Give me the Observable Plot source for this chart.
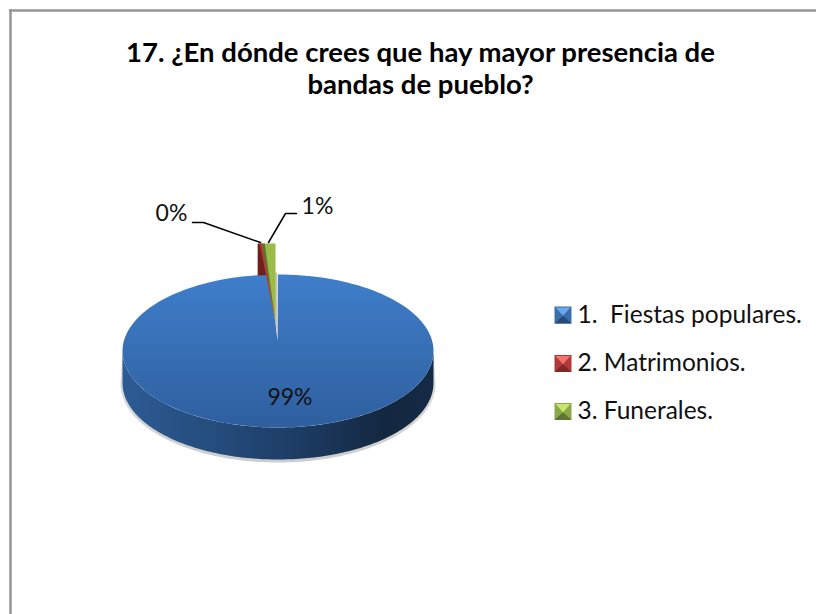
<!DOCTYPE html>
<html>
<head>
<meta charset="utf-8">
<script src="https://cdn.jsdelivr.net/npm/d3@7"></script>
<script src="https://cdn.jsdelivr.net/npm/@observablehq/plot@0.6"></script>
<style>html,body{margin:0;padding:0;background:#fff}svg{display:block}</style>
</head>
<body>
<div id="chart"></div>
<script>
// Data
const titleLines = ["17. ¿En dónde crees que hay mayor presencia de", "bandas de pueblo?"];
const categories = ["1.  Fiestas populares.", "2. Matrimonios.", "3. Funerales."];
const shares = [98.5, 0.3, 1.2];
const seriesLight = ["#6aa6ea", "#f4726c", "#c8e56c"];
const seriesBase = ["#3a6ea8", "#b03a37", "#8aa84a"];
const seriesDark = ["#274b78", "#7c2a28", "#5f7633"];

// Layout of the tilted pie, in pixels of the frame
const W = 816, H = 614, FONT = "Lato, Carlito, Calibri, sans-serif";
const cx = 277.5, cy = 350.5, rx = 155.5, ry = 76.5, depth = 32;
const apex = {x: 277, y: 340};
const spike = {top: 243, tipX: 275, tipY: 322, offset: -2, stretch: 1.22};

const rad = p => p * 3.6 * Math.PI / 180 * spike.stretch;
const gap = rad(shares[1] + shares[2]);
const ell = (t, dy = 0, g = 0) => ({x: cx + (rx + g) * Math.sin(t), y: cy + dy - (ry + g) * Math.cos(t)});
const arc = (a, b, dy = 0, g = 0) => d3.range(0, 161).map(i => ell(a + (b - a) * i / 160, dy, g));

const tip = {x: spike.tipX, y: spike.tipY};
const notch = {x: 266, y: 275};
const topFace = [apex, ...arc(0, 2 * Math.PI - gap), notch, tip];
const sideFace = [...arc(Math.PI / 2, 3 * Math.PI / 2), ...arc(3 * Math.PI / 2, Math.PI / 2, depth)];
const halo = [...arc(Math.PI / 2 - .05, 3 * Math.PI / 2 + .05, 1, 0), ...arc(3 * Math.PI / 2 + .05, Math.PI / 2 - .05, depth + 1, 2)];

const sx = t => apex.x + spike.offset - rx * Math.sin(t);
const greenR = sx(0), greenL = sx(rad(shares[2])), redL = sx(rad(shares[2] + shares[1]));
const greenFace = [{x: greenL, y: spike.top}, {x: greenR, y: spike.top}, tip];
const greenSide = [{x: greenL, y: spike.top}, {x: greenL + 3.5, y: spike.top}, tip];
const redSide = [{x: redL, y: spike.top}, {x: greenL, y: spike.top}, tip, notch, {x: redL, y: 275}];
const redFace = [{x: greenL - 1.6, y: spike.top}, {x: greenL + .6, y: spike.top}, tip];
const grayGap = [{x: 273.5, y: 272}, {x: 277, y: 272}, {x: 277, y: 340}, tip];

// Leader lines and labels
const pieLabels = shares.map(d => Math.round(d) + "%");
const labelPos = [{x: 289.5, y: 397}, {x: 171, y: 213}, {x: 317, y: 206}];
const leaders = [
  [{x: 192, y: 222}, {x: 203, y: 222}, {x: 260, y: 242}],
  [{x: 296, y: 213}, {x: 285, y: 213}, {x: 268, y: 242}]
];

// Legend
const legendY = [314.5, 363, 411];
const legendX = 554, sw = 17;

const poly = (pts, fill, extra = {}) => Plot.line(pts, {x: "x", y: "y", fill, stroke: "none", curve: "linear-closed", ...extra});

const defs = () => {
  const d = d3.create("svg:defs");
  const grad = (id, stops, x2, y2) => {
    const g = d.append("linearGradient").attr("id", id).attr("x1", 0).attr("y1", 0).attr("x2", x2).attr("y2", y2);
    stops.forEach(([o, c]) => g.append("stop").attr("offset", o).attr("stop-color", c));
  };
  grad("topGrad", [[0, "#3f7ecb"], [.5, "#376fb4"], [1, "#2e5f9f"]], 0, 1);
  grad("sideGrad", [[0, "#2d5b93"], [.3, "#244c7c"], [.6, "#1c3a60"], [.85, "#13273f"], [1, "#152a46"]], 1, 0);
  grad("haloGrad", [[0, "#e0e0e0"], [1, "#cdcdcd"]], 0, 1);
  return d.node();
};

const legendMarks = categories.flatMap((name, i) => {
  const y0 = legendY[i] - sw / 2, y1 = y0 + sw, x0 = legendX, x1 = x0 + sw;
  const mid = {x: x0 + sw / 2, y: y0 + sw * .55};
  return [
    poly([{x: x0, y: y0}, {x: x1, y: y0}, {x: x1, y: y1}, {x: x0, y: y1}], seriesBase[i]),
    poly([{x: x0, y: y1}, {x: x1, y: y1}, mid], seriesDark[i]),
    poly([{x: x0 + 1, y: y0 + 1}, {x: x1 - 1, y: y0 + 1}, mid], seriesLight[i])
  ];
});

const chart = Plot.plot({
  width: W, height: H, margin: 0,
  x: {domain: [0, W], range: [0, W], axis: null},
  y: {domain: [0, H], range: [0, H], axis: null},
  marks: [
    defs,
    // frame: only the top and left edges are visible
    Plot.ruleY([10], {x1: 9, x2: W, stroke: "#959595", strokeWidth: 2.5}),
    Plot.ruleX([10], {y1: 9, y2: H, stroke: "#959595", strokeWidth: 2.5}),
    // title
    Plot.text(titleLines, {x: () => 420, y: (d, i) => 53 + i * 32, text: d => d, fontFamily: FONT, fontWeight: 700, fontSize: 27.5, fill: "#000"}),
    // pie
    poly(halo, "url(#haloGrad)"),
    poly(sideFace, "url(#sideGrad)"),
    poly(topFace, "url(#topGrad)"),
    poly(grayGap, "#c4c4c4"),
    poly(redSide, "#6f1f1d"),
    poly(greenFace, "#9bbb47"),
    poly(greenSide, "#4f6a2a", {fillOpacity: .85}),
    poly(redFace, "#c0332f"),
    // leader lines
    ...leaders.map(l => Plot.line(l, {x: "x", y: "y", stroke: "#000", strokeWidth: 1.5})),
    // data labels
    Plot.text(pieLabels, {x: (d, i) => labelPos[i].x, y: (d, i) => labelPos[i].y, text: d => d, fontFamily: FONT, fontSize: 23, fill: "#111"}),
    // legend
    ...legendMarks,
    Plot.text(categories, {x: () => 577, y: (d, i) => legendY[i], text: d => d, textAnchor: "start", fontFamily: FONT, fontSize: 24.5, fill: "#111"})
  ]
});
document.getElementById("chart").append(chart);
</script>
</body>
</html>
